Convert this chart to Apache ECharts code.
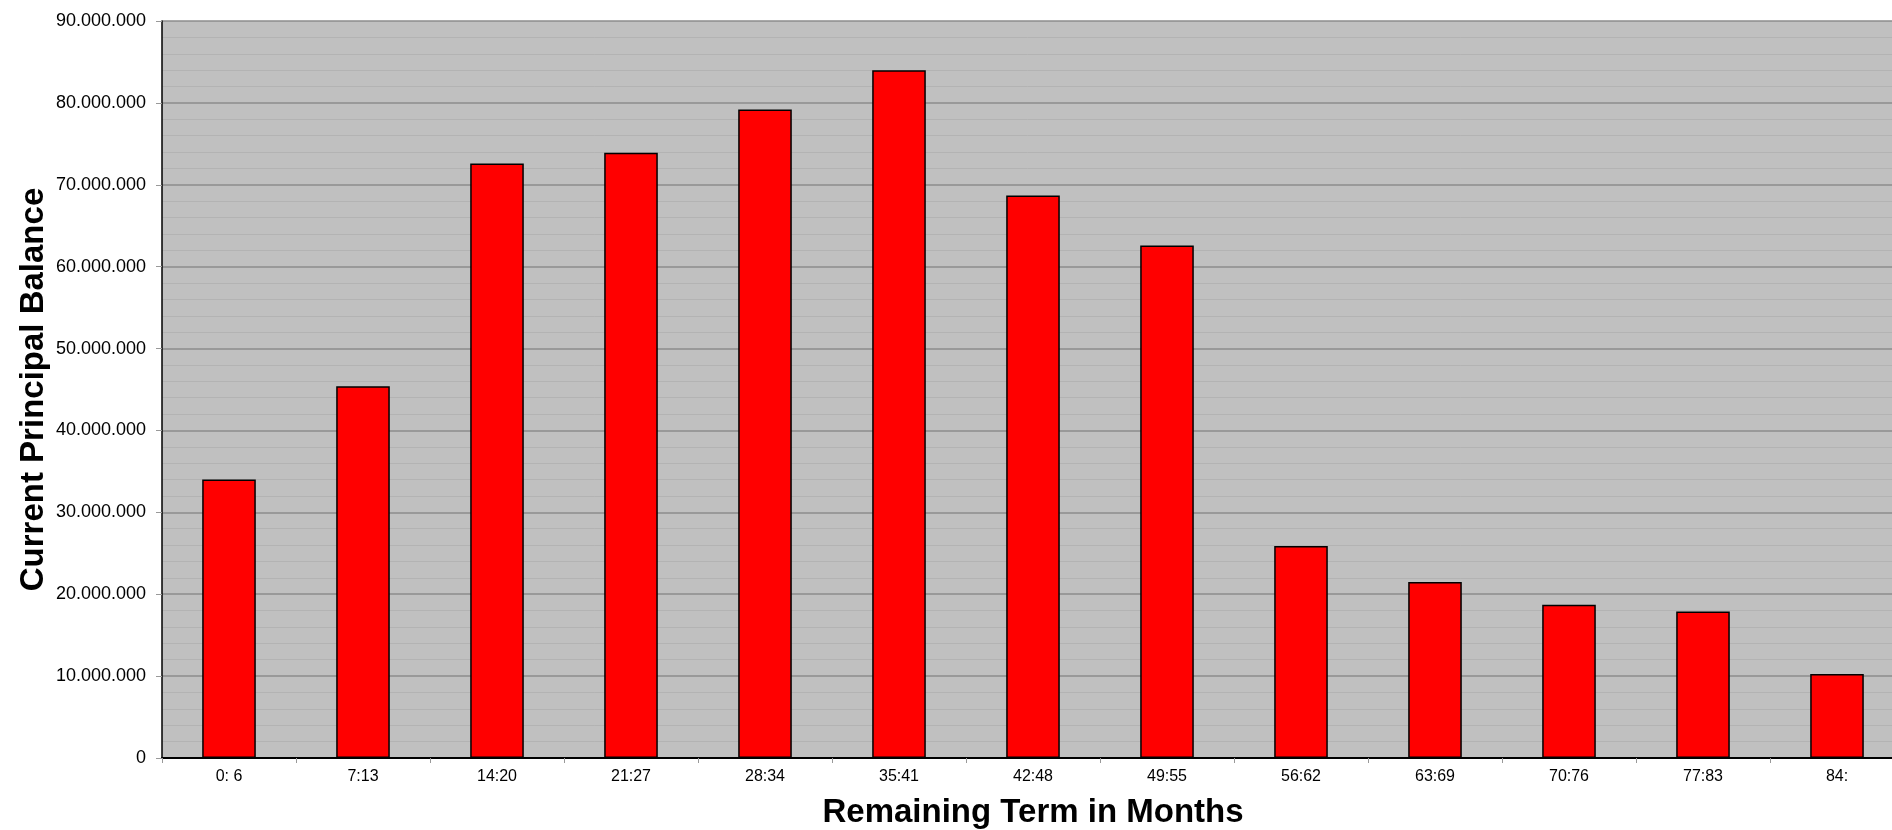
<!DOCTYPE html>
<html>
<head>
<meta charset="utf-8">
<script src="https://cdn.jsdelivr.net/npm/echarts@6/dist/echarts.min.js"></script>
<style>
  html, body { margin: 0; padding: 0; background: #fff; }
  #chart { width: 1892px; height: 830px; }
</style>
</head>
<body>
<div id="chart"></div>
<script>
// Remaining-term buckets (months) and outstanding principal per bucket
const termBuckets = ['0: 6', '7:13', '14:20', '21:27', '28:34', '35:41', '42:48',
                     '49:55', '56:62', '63:69', '70:76', '77:83', '84:'];
const principalBalance = [34000000, 45400000, 72600000, 73900000, 79200000, 84000000,
                          68700000, 62600000, 25900000, 21500000, 18700000, 17900000, 10250000];
const yAxisMax = 90000000;
const yAxisStep = 10000000;

// Thousands separated with dots, e.g. 90.000.000
function dotThousands(v) {
  return String(Math.round(v)).replace(/\B(?=(\d{3})+(?!\d))/g, '.');
}

const chart = echarts.init(document.getElementById('chart'), null, { renderer: 'canvas' });
const font = 'Liberation Sans, Arial, sans-serif';

chart.setOption({
  animation: false,
  backgroundColor: '#ffffff',
  grid: {
    left: 162, top: 21, bottom: 72, right: -12,
    outerBoundsMode: 'none',
    containLabel: false,
    show: true, backgroundColor: '#C0C0C0', borderWidth: 0
  },
  xAxis: {
    type: 'category',
    data: termBuckets,
    name: 'Remaining Term in Months',
    nameLocation: 'middle',
    nameGap: 38,
    nameMoveOverlap: false,
    nameTextStyle: { fontFamily: font, fontSize: 33, fontWeight: 'bold', color: '#000' },
    axisLine: { lineStyle: { color: '#000', width: 2 } },
    axisTick: { show: true, length: 5, lineStyle: { color: '#999' } },
    axisLabel: { fontFamily: font, fontSize: 16, color: '#000', margin: 11 },
    splitLine: { show: false }
  },
  yAxis: {
    type: 'value',
    min: 0, max: yAxisMax, interval: yAxisStep,
    name: 'Current Principal Balance',
    nameLocation: 'middle',
    nameGap: 112,
    nameMoveOverlap: false,
    nameRotate: 90,
    nameTextStyle: { fontFamily: font, fontSize: 33, fontWeight: 'bold', color: '#000' },
    axisLine: { show: true, lineStyle: { color: '#000', width: 1.5 } },
    axisTick: { show: true, length: 6, lineStyle: { color: '#999' } },
    axisLabel: { fontFamily: font, fontSize: 18, color: '#000', margin: 16, formatter: dotThousands },
    splitLine: { show: true, lineStyle: { color: '#8C8C8C', width: 1.5 } },
    minorTick: { show: false, splitNumber: 5 },
    minorSplitLine: { show: true, lineStyle: { color: '#B3B3B3', width: 1 } }
  },
  series: [{
    type: 'bar',
    data: principalBalance,
    barWidth: '40%',
    itemStyle: { color: '#FF0000', borderColor: '#000', borderWidth: 1.5 }
  }]
});
</script>
</body>
</html>
